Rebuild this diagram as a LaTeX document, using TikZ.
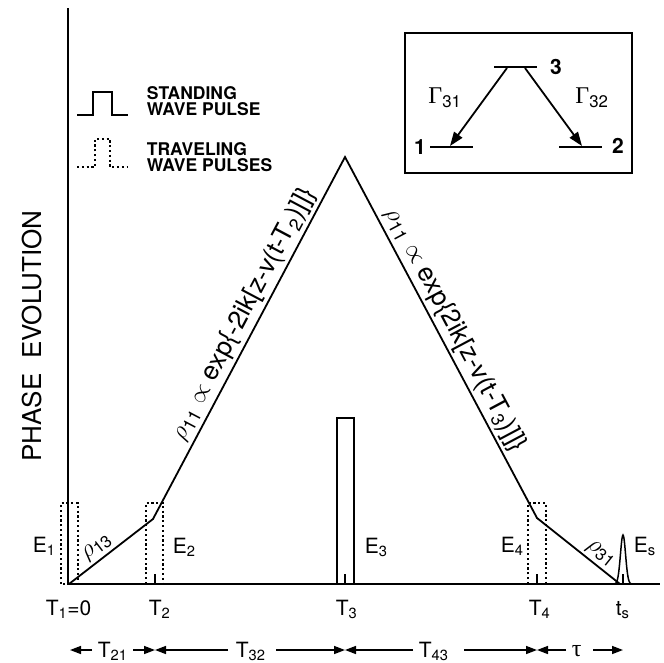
\documentclass[tikz,border=0pt]{standalone}
\usepackage{fontspec}
\setmainfont{TeX Gyre Heros}
\newfontfamily\greekserif{Liberation Serif}
\usetikzlibrary{arrows.meta}
\begin{document}
\begin{tikzpicture}[x=1pt,y=-1pt,line width=1.8pt,
  lbl/.style={font=\fontsize{21}{22}\selectfont, inner sep=0pt, anchor=base west},
  formula/.style={font=\fontsize{26}{28}\selectfont, inner sep=3pt},
  rholbl/.style={font=\fontsize{24}{24}\selectfont, inner sep=3pt},
  dotbox/.style={line width=1.4pt, dash pattern=on 2.2pt off 2.6pt},
  tickmark/.style={line width=1.4pt},
  dimarrow/.style={line width=1.5pt, -{Triangle[length=11pt,width=8pt]}},
  level/.style={line width=2.6pt},
  decay/.style={line width=1.8pt, -{Triangle[length=14pt,width=10pt]}},
  legendtxt/.style={font=\fontsize{17.5}{17.5}\selectfont\bfseries, inner sep=0pt, anchor=base west},
  levelnum/.style={font=\fontsize{21}{21}\selectfont\bfseries, inner sep=0pt},
  rate/.style={font=\fontsize{24}{24}\selectfont, inner sep=0pt},
  axislbl/.style={font=\fontsize{26}{26}\selectfont, inner sep=0pt, rotate=90},
]
\path[use as bounding box] (0,0) rectangle (664,662);

% axes
\coordinate (ytop) at (68,8);
\coordinate (orig) at (68,584);
\coordinate (xend) at (660,584);
\draw (ytop) -- (orig) -- (xend);
\node[axislbl] (ylabel) at (32,336) {PHASE\ \ EVOLUTION};

% dotted traveling-wave pulse boxes
\draw[dotbox] (61,584) rectangle (78,503);
\draw[dotbox] (146,584) rectangle (163,503);
\draw[dotbox] (528,584) rectangle (546,503);

% standing wave pulse E3
\draw[line width=1.5pt] (337,584) -- (337,418) -- (354,418) -- (354,584);

% ticks
\coordinate (t2) at (155,584);
\coordinate (t3) at (345,584);
\coordinate (t4) at (537,584);
\coordinate (tsx) at (623,584);
\foreach \c in {t2,t3,t4,tsx} \draw[tickmark] (\c) -- ++(0,-10);

% echo pulse Es
\draw[line width=1.5pt] plot[domain=612:634, samples=45, smooth] (\x,{584-49*exp(-(\x-623)*(\x-623)/13)});

% phase evolution path
\coordinate (p0) at (69,584);
\coordinate (k2) at (153,519);
\coordinate (peak) at (345,157);
\coordinate (k4) at (537,518);
\coordinate (pend) at (620,584);
\draw[line join=miter, line width=1.8pt] (p0)
  -- node[rholbl, sloped, above, pos=0.42] (rho13) {$\rho$\textsubscript{13}} (k2)
  -- node[formula, sloped, above, pos=0.545] (fl) {$\rho$\textsubscript{11} $\propto$ exp\{-2ik[z-v(t-T\textsubscript{2})]]\}} (peak)
  -- node[formula, sloped, above, pos=0.5] (fr) {$\rho$\textsubscript{11} $\propto$ exp\{2ik[z-v(t-T\textsubscript{3})]]\}} (k4)
  -- node[rholbl, sloped, above, pos=0.68] (rho31) {$\rho$\textsubscript{31}} (pend);

% E labels
\node[lbl] (e1) at (32,552) {E\textsubscript{1}};
\node[lbl] (e2) at (172,553) {E\textsubscript{2}};
\node[lbl] (e3) at (364,553) {E\textsubscript{3}};
\node[lbl] (e4) at (500,552) {E\textsubscript{4}};
\node[lbl] (es) at (633,552) {E\textsubscript{s}};

% time labels
\node[lbl] (T1) at (45,615) {T\textsubscript{1}=0};
\node[lbl] (T2) at (148,615) {T\textsubscript{2}};
\node[lbl] (T3) at (335,615) {T\textsubscript{3}};
\node[lbl] (T4) at (528,615) {T\textsubscript{4}};
\node[lbl] (Ts) at (615,615) {t\textsubscript{s}};

% interval arrows
\node[lbl] (d21) at (97,657) {T\textsubscript{21}};
\node[lbl] (d32) at (235,657) {T\textsubscript{32}};
\node[lbl] (d43) at (418,657) {T\textsubscript{43}};
\node[lbl, font=\fontsize{24}{24}\selectfont\greekserif] (dtau) at (571,656) {τ};
\coordinate (b0) at (70,650);
\coordinate (b1) at (155,650);
\coordinate (b2) at (345,650);
\coordinate (b3) at (537,650);
\coordinate (b4) at (623,650);
\coordinate (s21l) at (92,650);
\coordinate (s21r) at (133,650);
\coordinate (s32l) at (228,650);
\coordinate (s32r) at (276,650);
\coordinate (s43l) at (413,650);
\coordinate (s43r) at (464,650);
\coordinate (stl) at (566,650);
\coordinate (str) at (593,650);
\draw[dimarrow] (s21l) -- (b0);
\draw[dimarrow] (s21r) -- (b1);
\draw[dimarrow] (s32l) -- (b1);
\draw[dimarrow] (s32r) -- (b2);
\draw[dimarrow] (s43l) -- (b2);
\draw[dimarrow] (s43r) -- (b3);
\draw[dimarrow] (stl) -- (b3);
\draw[dimarrow] (str) -- (b4);

% legend
\draw[line width=1.8pt] (77,115) -- (93,115) -- (93,92) -- (112,92) -- (112,115) -- (128,115);
\node[legendtxt] (lg1a) at (146,99) {STANDING};
\node[legendtxt] (lg1b) at (146,115) {WAVE PULSE};
\draw[dotbox, line width=1.8pt] (77,167) -- (95,167) -- (95,139) -- (110,139) -- (110,167) -- (128,167);
\node[legendtxt] (lg2a) at (146,155) {TRAVELING};
\node[legendtxt] (lg2b) at (146,171) {WAVE PULSES};

% inset level scheme
\draw[line width=1.8pt] (405,33) rectangle (632,173);
\coordinate (l3a) at (494,67);
\coordinate (l3b) at (537,67);
\coordinate (l1a) at (430,147);
\coordinate (l1b) at (473,147);
\coordinate (l2a) at (559,147);
\coordinate (l2b) at (602,147);
\draw[level] (l3a) -- (l3b);
\draw[level] (l1a) -- (l1b);
\draw[level] (l2a) -- (l2b);
\node[levelnum] (n3) at (556,67) {3};
\node[levelnum] (n1) at (420,147) {1};
\node[levelnum] (n2) at (618,146) {2};
\coordinate (d1s) at (507,68);
\coordinate (d1e) at (450,146);
\coordinate (d2s) at (525,68);
\coordinate (d2e) at (582,146);
\draw[decay] (d1s) -- (d1e);
\draw[decay] (d2s) -- (d2e);
\node[rate] (g31) at (445,98) {{\greekserif Γ}\textsubscript{31}};
\node[rate] (g32) at (592,98) {{\greekserif Γ}\textsubscript{32}};
\end{tikzpicture}
\end{document}
